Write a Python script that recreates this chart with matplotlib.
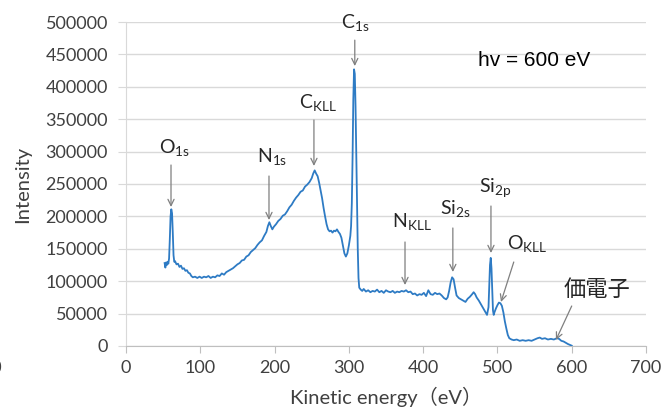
import matplotlib
matplotlib.use("Agg")
import matplotlib.pyplot as plt
from matplotlib.ticker import MultipleLocator

plt.rcParams['font.family'] = ['Lato', 'Noto Sans CJK JP', 'DejaVu Sans']
plt.rcParams['mathtext.fontset'] = 'custom'
plt.rcParams['mathtext.rm'] = 'Lato'

# spectrum (kinetic energy eV, intensity counts)
energy = [52, 53, 54, 55, 56, 57, 58, 59, 60, 61, 62, 63, 64, 65, 66, 68, 70, 72, 74, 76,
          78, 80, 82, 84, 86, 88, 90, 93, 96, 99, 102, 105, 108, 111, 114, 117, 120, 123, 126, 129,
          132, 135, 138, 141, 144, 147, 150, 153, 156, 159, 162, 165, 168, 171, 174, 177, 180, 183, 186, 189,
          191, 193, 195, 197, 199, 202, 205, 208, 211, 214, 217, 220, 223, 226, 229, 232, 235, 238, 241, 244,
          247, 250, 252, 254, 256, 258, 260, 262, 264, 266, 268, 270, 272, 274, 276, 278, 280, 282, 284, 286,
          288, 290, 292, 294, 296, 298, 300, 302, 303, 304, 305, 306, 307, 308, 309, 310, 311, 312, 313, 314,
          316, 318, 320, 323, 326, 329, 332, 335, 338, 341, 344, 347, 350, 353, 356, 359, 362, 365, 368, 371,
          374, 377, 380, 383, 386, 389, 392, 395, 398, 401, 404, 407, 410, 413, 416, 419, 422, 425, 428, 431,
          433, 435, 437, 439, 441, 443, 445, 448, 451, 454, 457, 460, 463, 466, 468, 470, 472, 475, 478, 481,
          484, 486, 488, 489, 490, 491, 492, 493, 494, 495, 496, 498, 500, 502, 504, 506, 508, 510, 512, 514,
          516, 519, 522, 526, 530, 534, 538, 542, 546, 550, 554, 557, 560, 564, 568, 572, 576, 580, 583, 586,
          589, 592, 595, 598, 600]
intensity = [128000, 121000, 129000, 125000, 130000, 127000, 135000, 165000, 200000, 211000, 205000, 175000, 140000, 130000, 131000, 126000, 127000, 122000, 124000, 119000,
             120000, 116000, 117000, 113000, 112000, 108000, 106000, 107000, 105000, 107000, 105000, 107000, 106000, 108000, 105000, 107000, 106000, 109000, 108000, 112000,
             110000, 114000, 116000, 118000, 120000, 123000, 126000, 128000, 132000, 133000, 138000, 140000, 145000, 148000, 151000, 156000, 160000, 163000, 170000, 176000,
             185000, 191000, 185000, 180000, 184000, 188000, 193000, 196000, 201000, 203000, 208000, 214000, 218000, 224000, 229000, 233000, 238000, 240000, 246000, 249000,
             253000, 259000, 266000, 271000, 266000, 262000, 252000, 240000, 228000, 213000, 200000, 188000, 180000, 177000, 178000, 175000, 178000, 177000, 180000, 176000,
             173000, 167000, 155000, 143000, 138000, 143000, 155000, 170000, 185000, 220000, 290000, 380000, 427000, 420000, 370000, 300000, 220000, 150000, 105000, 90000,
             87000, 85000, 88000, 84000, 86000, 83000, 85000, 84000, 87000, 83000, 85000, 82000, 86000, 84000, 83000, 85000, 82000, 84000, 83000, 85000,
             84000, 86000, 83000, 84000, 80000, 81000, 78000, 80000, 79000, 82000, 77000, 86000, 80000, 79000, 82000, 80000, 81000, 78000, 74000, 72000,
             75000, 85000, 98000, 106000, 103000, 90000, 78000, 74000, 72000, 70000, 68000, 73000, 76000, 80000, 83000, 80000, 75000, 70000, 64000, 58000,
             52000, 48000, 60000, 95000, 125000, 136000, 120000, 85000, 55000, 48000, 52000, 58000, 63000, 67000, 66000, 62000, 52000, 38000, 27000, 17000,
             12000, 10000, 9000, 10000, 8000, 9000, 8000, 9000, 8000, 10000, 12000, 13000, 11000, 12000, 10000, 11000, 10000, 12000, 11000, 8000,
             7000, 5000, 3000, 1500, 500]

# peak labels: text, arrow tip (E, I), arrow tail (E, I), label position (E, I)
peak_labels = [r"O$_{\mathrm{1s}}$", r"N$_{\mathrm{1s}}$", r"C$_{\mathrm{KLL}}$", r"C$_{\mathrm{1s}}$",
               r"N$_{\mathrm{KLL}}$", r"Si$_{\mathrm{2s}}$", r"Si$_{\mathrm{2p}}$", r"O$_{\mathrm{KLL}}$", "価電子"]
tips = [(60.6, 214500), (192.5, 194400), (253, 277800), (308, 432000),
        (375.6, 94100), (440, 114200), (491.3, 143500), (504.8, 67900), (578.8, 9300)]
tails = [(60.6, 279300), (192.5, 262300), (253, 348800), (308, 472000),
         (375.6, 160500), (440, 182100), (491.3, 216000), (522, 129600), (600, 61700)]
label_pos = [(66, 305500), (196.5, 291700), (258.5, 375000), (308, 498500),
             (385, 191400), (444, 211400), (496.7, 243800), (540, 157400), (634, 86400)]

fig = plt.figure(figsize=(6.61, 4.12), dpi=100)
ax = fig.add_axes([0.1906, 0.1602, 0.7867, 0.7864])

ax.plot(energy, intensity, color='#2E7BC4', lw=1.3, zorder=3)

ax.set_xlim(0, 700)
ax.set_ylim(0, 500000)
ax.xaxis.set_major_locator(MultipleLocator(100))
ax.yaxis.set_major_locator(MultipleLocator(50000))
ax.grid(axis='y', color='#D9D9D9', lw=1, zorder=0)
ax.set_axisbelow(True)
for s in ['top', 'right']:
    ax.spines[s].set_visible(False)
ax.spines['left'].set_color('#D9D9D9')
ax.spines['bottom'].set_color('#BFBFBF')
ax.tick_params(axis='x', length=5, color='#BFBFBF', labelsize=13, labelcolor='#404040', pad=5)
ax.tick_params(axis='y', length=6, color='#D9D9D9', labelsize=13, labelcolor='#404040', pad=7)

ax.set_xlabel("Kinetic energy（eV）", fontsize=14.5, color='#404040', labelpad=8)
ax.set_ylabel("Intensity", fontsize=14.5, color='#404040', labelpad=10)

for lab, tip, tail, pos in zip(peak_labels, tips, tails, label_pos):
    ax.annotate("", xy=tip, xytext=tail,
                arrowprops=dict(arrowstyle='->,head_length=0.45,head_width=0.22',
                                color='#7F7F7F', lw=0.9, shrinkA=0, shrinkB=0))
    size = 16 if lab == "価電子" else 14
    ax.text(pos[0], pos[1], lab, fontsize=size, ha='center', va='center', color='#262626')

ax.text(474, 441000, "hv = 600 eV", fontsize=15, family='Liberation Sans',
        ha='left', va='center', color='black')

# sliver of a cropped label at the left edge
fig.text(-0.005, 1 - 368 / 412, "0", fontsize=12, ha='center', va='center', color='#404040')

fig.savefig("out.png", dpi=100)
